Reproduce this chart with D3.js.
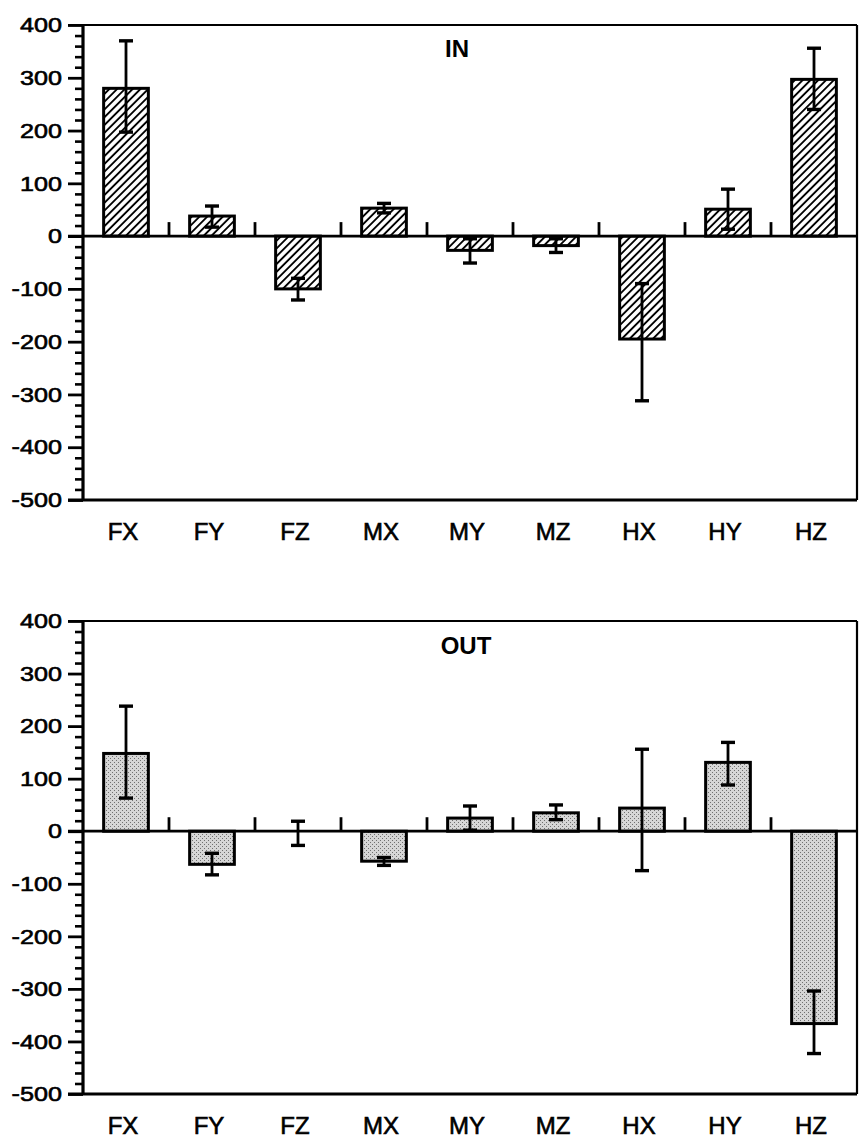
<!DOCTYPE html>
<html>
<head>
<meta charset="utf-8">
<script src="https://cdn.jsdelivr.net/npm/d3@7"></script>
<style>
  body { margin: 0; background: #fff; }
  text { font-family: "Liberation Sans", Arial, Helvetica, sans-serif; fill: #000; }
</style>
</head>
<body>
<svg id="chart" width="859" height="1142"></svg>
<script>
const categories = ['FX', 'FY', 'FZ', 'MX', 'MY', 'MZ', 'HX', 'HY', 'HZ'];
const yTickValues = [400, 300, 200, 100, 0, -100, -200, -300, -400, -500];
const minorTickValues = [380, 360, 340, 320, 280, 260, 240, 220, 180, 160, 140, 120,
  80, 60, 40, 20, -20, -40, -60, -80, -120, -140, -160, -180, -220, -240, -260, -280,
  -320, -340, -360, -380, -420, -440, -460, -480];

// IN panel
const inValues = [280, 38, -100, 53, -27, -18, -195, 51, 297];
const inErrHigh = [370, 57, -80, 62, -5, -5, -90, 89, 356];
const inErrLow = [197, 17, -121, 44, -51, -31, -312, 13, 240];

// OUT panel
const outValues = [148, -63, 0, -57, 25, 35, 44, 131, -366];
const outErrHigh = [238, -42, 19, -50, 48, 50, 156, 169, -304];
const outErrLow = [63, -83, -27, -65, 2, 22, -75, 88, -423];

const svg = d3.select('#chart');
const left = 83;
const right = 857;

const defs = svg.append('defs');
const hatch = defs.append('pattern')
  .attr('id', 'hatch')
  .attr('patternUnits', 'userSpaceOnUse')
  .attr('width', 5.5).attr('height', 5.5)
  .attr('patternTransform', 'rotate(45)');
hatch.append('rect').attr('width', 5.5).attr('height', 5.5).attr('fill', '#fff');
hatch.append('line').attr('x1', 2.75).attr('x2', 2.75).attr('y1', 0).attr('y2', 5.5)
  .attr('stroke', '#000').attr('stroke-width', 1.9);

const dots = defs.append('pattern')
  .attr('id', 'dots')
  .attr('patternUnits', 'userSpaceOnUse')
  .attr('width', 4).attr('height', 4);
dots.append('rect').attr('width', 4).attr('height', 4).attr('fill', '#d6d6d6');
dots.append('rect').attr('x', 0).attr('y', 0).attr('width', 1).attr('height', 1).attr('fill', '#707070');
dots.append('rect').attr('x', 2).attr('y', 2).attr('width', 1).attr('height', 1).attr('fill', '#707070');

const x = d3.scaleBand()
  .domain(categories)
  .range([left, right])
  .paddingInner(0.48)
  .paddingOuter(0.24);

function drawPanel(cfg) {
  const g = svg.append('g');
  const y = d3.scaleLinear().domain([-500, 400]).range([cfg.bottom, cfg.top]);
  const step = x.step();

  const rows = categories.map((c, i) => ({
    cat: c, v: cfg.values[i], hi: cfg.hi[i], lo: cfg.lo[i]
  }));

  // bars
  g.selectAll('rect.bar')
    .data(rows)
    .join('rect')
    .attr('class', 'bar')
    .attr('x', d => x(d.cat))
    .attr('width', x.bandwidth())
    .attr('y', d => Math.min(y(d.v), y(0)))
    .attr('height', d => Math.abs(y(d.v) - y(0)))
    .attr('fill', cfg.fill)
    .attr('stroke', '#000')
    .attr('stroke-width', 3);

  // zero line
  g.append('line')
    .attr('x1', left - 15).attr('x2', right)
    .attr('y1', y(0)).attr('y2', y(0))
    .attr('stroke', '#000').attr('stroke-width', 2.8);

  // category separator ticks on zero line
  g.selectAll('line.sep')
    .data(categories.slice(1))
    .join('line')
    .attr('class', 'sep')
    .attr('x1', d => x(d) - step * x.paddingOuter())
    .attr('x2', d => x(d) - step * x.paddingOuter())
    .attr('y1', y(0)).attr('y2', y(0) - 14)
    .attr('stroke', '#000').attr('stroke-width', 2.8);

  // error bars
  const eb = g.selectAll('g.err').data(rows).join('g').attr('class', 'err');
  const cx = d => x(d.cat) + x.bandwidth() / 2;
  eb.append('line')
    .attr('x1', cx).attr('x2', cx)
    .attr('y1', d => y(d.lo)).attr('y2', d => y(d.hi))
    .attr('stroke', '#000').attr('stroke-width', 2.8);
  eb.append('line')
    .attr('x1', d => cx(d) - 7).attr('x2', d => cx(d) + 7)
    .attr('y1', d => y(d.hi)).attr('y2', d => y(d.hi))
    .attr('stroke', '#000').attr('stroke-width', 3.4);
  eb.append('line')
    .attr('x1', d => cx(d) - 7).attr('x2', d => cx(d) + 7)
    .attr('y1', d => y(d.lo)).attr('y2', d => y(d.lo))
    .attr('stroke', '#000').attr('stroke-width', 3.4);

  // frame
  g.append('line').attr('x1', left - 15).attr('x2', right)
    .attr('y1', cfg.top).attr('y2', cfg.top)
    .attr('stroke', '#000').attr('stroke-width', 2.2);
  g.append('line').attr('x1', right).attr('x2', right)
    .attr('y1', cfg.top).attr('y2', cfg.bottom)
    .attr('stroke', '#000').attr('stroke-width', 2.2);
  g.append('line').attr('x1', left - 15).attr('x2', right)
    .attr('y1', cfg.bottom).attr('y2', cfg.bottom)
    .attr('stroke', '#000').attr('stroke-width', 3);
  g.append('line').attr('x1', left).attr('x2', left)
    .attr('y1', cfg.top).attr('y2', cfg.bottom)
    .attr('stroke', '#000').attr('stroke-width', 3.2);

  // y axis major ticks + labels
  const sx = 1.2;
  const yAxis = g.append('g')
    .attr('transform', `translate(${left},0)`)
    .call(d3.axisLeft(y).tickValues(yTickValues).tickSize(15).tickSizeOuter(0).tickFormat(d3.format('d')));
  yAxis.select('.domain').remove();
  yAxis.selectAll('.tick line').attr('stroke', '#000').attr('stroke-width', 2.8);
  yAxis.selectAll('.tick text')
    .attr('font-size', 21)
    .attr('font-family', '"Liberation Sans", Arial, sans-serif')
    .attr('fill', '#000')
    .attr('stroke', '#000')
    .attr('stroke-width', 0.6)
    .attr('transform', `scale(${sx},1)`)
    .attr('x', -21 / sx)
    .text(d => (d < 0 ? '-' + Math.abs(d) : d));

  // y axis minor ticks
  const yMinor = g.append('g')
    .attr('transform', `translate(${left},0)`)
    .call(d3.axisLeft(y).tickValues(minorTickValues).tickSize(8).tickSizeOuter(0).tickFormat(''));
  yMinor.select('.domain').remove();
  yMinor.selectAll('.tick line').attr('stroke', '#000').attr('stroke-width', 2.6);

  // category labels
  g.selectAll('text.cat')
    .data(categories)
    .join('text')
    .attr('class', 'cat')
    .attr('x', d => x(d) + x.bandwidth() / 2 - 3)
    .attr('y', cfg.bottom + 40)
    .attr('text-anchor', 'middle')
    .attr('font-size', 24)
    .attr('stroke', '#000')
    .attr('stroke-width', 0.6)
    .text(d => d);

  // title
  g.append('text')
    .attr('x', cfg.titleX)
    .attr('y', cfg.titleY)
    .attr('text-anchor', 'middle')
    .attr('font-size', 24)
    .attr('font-weight', 'bold')
    .text(cfg.title);
}

drawPanel({
  top: 25, bottom: 500, title: 'IN', titleX: 457, titleY: 57,
  values: inValues, hi: inErrHigh, lo: inErrLow, fill: 'url(#hatch)'
});

drawPanel({
  top: 621, bottom: 1094, title: 'OUT', titleX: 466, titleY: 654,
  values: outValues, hi: outErrHigh, lo: outErrLow, fill: 'url(#dots)'
});
</script>
</body>
</html>
